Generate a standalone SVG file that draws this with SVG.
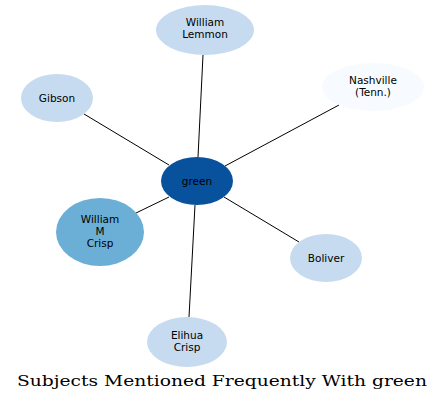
<svg xmlns="http://www.w3.org/2000/svg" width="445" height="403" viewBox="0 0 445 403">
<style>
.n text{font-family:"DejaVu Sans",sans-serif;font-size:10.5px;text-anchor:middle;fill:#000}
.e line{stroke:#000;stroke-width:1}
.t{font-family:"DejaVu Serif",serif;font-size:15px;text-anchor:middle;fill:#000}
</style>
<rect width="445" height="403" fill="#fff"/>
<g class="e" id="edges">
<line x1="198" y1="157" x2="203" y2="55"/>
<line x1="225" y1="166" x2="339" y2="105"/>
<line x1="169" y1="165" x2="84" y2="114"/>
<line x1="169" y1="197" x2="136" y2="213"/>
<line x1="224" y1="197" x2="299" y2="242"/>
<line x1="195" y1="205" x2="189" y2="317"/>
</g>
<g class="n" id="n-lemmon"><ellipse cx="205" cy="30" rx="49" ry="25" fill="#c6dbef"/><text x="205" y="26">William</text><text x="205" y="38">Lemmon</text></g>
<g class="n" id="n-nashville"><ellipse cx="373" cy="87" rx="51" ry="24" fill="#f7fbff"/><text x="373" y="84">Nashville</text><text x="373" y="96">(Tenn.)</text></g>
<g class="n" id="n-gibson"><ellipse cx="57" cy="98" rx="36" ry="24" fill="#c6dbef"/><text x="57" y="102">Gibson</text></g>
<g class="n" id="n-green"><ellipse cx="197" cy="181" rx="36" ry="24" fill="#08519c"/><text x="197" y="185">green</text></g>
<g class="n" id="n-wmcrisp"><ellipse cx="100" cy="232" rx="44" ry="34" fill="#6baed6"/><text x="100" y="223">William</text><text x="100" y="235">M</text><text x="100" y="247">Crisp</text></g>
<g class="n" id="n-boliver"><ellipse cx="326" cy="258" rx="36" ry="24" fill="#c6dbef"/><text x="326" y="262">Boliver</text></g>
<g class="n" id="n-elihua"><ellipse cx="187" cy="342" rx="40" ry="25" fill="#c6dbef"/><text x="187" y="339">Elihua</text><text x="187" y="351">Crisp</text></g>
<text class="t" transform="scale(1.245,1)" x="178.3" y="386">Subjects Mentioned Frequently With green</text>
</svg>
